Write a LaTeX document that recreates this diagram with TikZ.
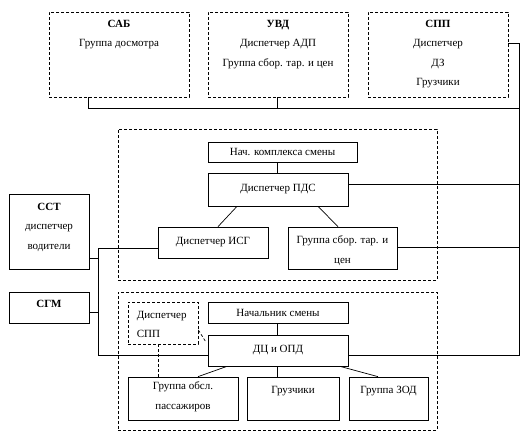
\documentclass[tikz,border=0pt]{standalone}
\usepackage{fontspec}
\setmainfont{Liberation Serif}
\usetikzlibrary{calc}

\begin{document}
\begin{tikzpicture}[
  x=1pt, y=-1pt,
  font=\fontsize{11}{19.5}\selectfont,
  every node/.style={inner sep=0pt},
  solidbox/.style={draw, line width=0.7pt},
  dashbox/.style={draw, line width=0.7pt, dash pattern=on 3pt off 2pt},
  boxtext/.style={anchor=north, align=center},
  link/.style={draw, line width=0.7pt},
  dashlink/.style={draw, line width=0.7pt, dash pattern=on 3pt off 2pt}
]
\useasboundingbox (0,0) rectangle (524,437);

% services on top
\node[dashbox, minimum width=140pt, minimum height=85pt] (sab) at (119,54.5) {};
\node[dashbox, minimum width=140pt, minimum height=85pt] (uvd) at (278,54.5) {};
\node[dashbox, minimum width=140pt, minimum height=85pt] (spp) at (438,54.5) {};
\node[boxtext] (sabt) at ([yshift=-8pt]sab.north) {\textbf{САБ}\\Группа досмотра};
\node[boxtext] (uvdt) at ([yshift=-8pt]uvd.north) {\textbf{УВД}\\Диспетчер АДП\\Группа сбор. тар. и цен};
\node[boxtext] (sppt) at ([yshift=-8pt]spp.north) {\textbf{СПП}\\Диспетчер\\ДЗ\\Грузчики};

% middle group
\node[dashbox, minimum width=319pt, minimum height=151pt] (pdsgrp) at (277.5,204.5) {};
\node[solidbox, minimum width=149pt, minimum height=20pt] (nks) at (282.5,152) {Нач. комплекса смены};
\node[solidbox, minimum width=140pt, minimum height=33pt] (pds) at (278,189.5) {Диспетчер ПДС};
\node[solidbox, minimum width=110pt, minimum height=31pt] (isg) at (213,242.5) {Диспетчер ИСГ};
\node[solidbox, minimum width=109pt, minimum height=42pt] (gst) at (342.5,248) {};
\node[boxtext] (gstt) at ([yshift=-9pt]gst.north) {Группа сбор. тар. и\\цен};

% left side
\node[solidbox, minimum width=80pt, minimum height=75pt] (sst) at (49,231.5) {};
\node[boxtext] (sstt) at ([yshift=-9pt]sst.north) {\textbf{ССТ}\\диспетчер\\водители};
\node[solidbox, minimum width=80pt, minimum height=31pt] (sgm) at (49,307.5) {};
\node[boxtext] (sgmt) at ([yshift=-8pt]sgm.north) {\textbf{СГМ}};

% lower group
\node[dashbox, minimum width=319pt, minimum height=138pt] (dcgrp) at (277.5,361) {};
\node[dashbox, minimum width=70pt, minimum height=42pt] (dspp) at (163,323) {};
\node[anchor=north west, align=left] (dsppt) at ([xshift=9pt, yshift=-9pt]dspp.north west) {Диспетчер\\СПП};
\node[solidbox, minimum width=140pt, minimum height=21pt] (nsm) at (278,312.5) {Начальник смены};
\node[solidbox, minimum width=140pt, minimum height=31pt] (dc) at (278,350.5) {ДЦ и ОПД};
\node[solidbox, minimum width=110pt, minimum height=43pt] (gop) at (183,398.5) {};
\node[boxtext] (gopt) at ([yshift=-5pt]gop.north) {Группа обсл.\\пассажиров};
\node[solidbox, minimum width=92pt, minimum height=43pt] (grz) at (293,398.5) {};
\node[boxtext] (grzt) at ([yshift=-9pt]grz.north) {Грузчики};
\node[solidbox, minimum width=79pt, minimum height=43pt] (zod) at (388.5,398.5) {};
\node[boxtext] (zodt) at ([yshift=-9pt]zod.north) {Группа ЗОД};

\coordinate (rbus) at (519,0);
\coordinate (lbus) at (98,0);
\coordinate (tbus) at (0,108);

% top bus and right spine
\draw[link] ([xshift=-31pt]sab.south) -- ([xshift=-31pt]sab.south |- tbus) -- (tbus -| rbus);
\draw[link] ([xshift=-1pt]uvd.south) -- ([xshift=-1pt]uvd.south |- tbus);
\draw[link] ([yshift=11.5pt]spp.east) -- ([yshift=11.5pt]spp.east -| rbus)
  -- ([yshift=-4.5pt]dc.east -| rbus) -- ([yshift=-4.5pt]dc.east);
\draw[link] ([yshift=5.5pt]pds.east) -- ([yshift=5.5pt]pds.east -| rbus);
\draw[link] ([yshift=1pt]gst.east) -- ([yshift=1pt]gst.east -| rbus);

% left spine
\draw[link] ([yshift=-5.5pt]isg.west) -- ([yshift=-5.5pt]isg.west -| lbus)
  -- ([yshift=-4.5pt]dc.west -| lbus) -- ([yshift=-4.5pt]dc.west);
\draw[link] ([yshift=-26.5pt]sst.east) -- ([yshift=-26.5pt]sst.east -| lbus);
\draw[link] ([yshift=-4.5pt]sgm.east) -- ([yshift=-4.5pt]sgm.east -| lbus);

% inside the groups
\draw[link] ([xshift=-1pt]pds.north) -- ([xshift=-1pt]pds.north |- nks.south);
\draw[link] ([xshift=-41pt]pds.south) -- ([xshift=5pt]isg.north);
\draw[link] ([xshift=40pt]pds.south) -- ([xshift=-4.5pt]gst.north);
\draw[link] ([xshift=-1pt]dc.north) -- ([xshift=-1pt]dc.north |- nsm.south);
\draw[link] ([xshift=-51pt]dc.south) -- ([xshift=15pt]gop.north);
\draw[link] ([xshift=-1pt]dc.south) -- ([xshift=-1pt]dc.south |- grz.north);
\draw[link] ([xshift=62pt]dc.south) -- ([xshift=-10.5pt]zod.north);
\draw[dashlink] ([xshift=-5pt]dspp.south) -- ([xshift=-5pt]dspp.south |- gop.north);
\draw[dashlink] ([yshift=-7pt]dspp.east) -- ([xshift=-2pt, yshift=-7pt]dc.north west);
\end{tikzpicture}
\end{document}
